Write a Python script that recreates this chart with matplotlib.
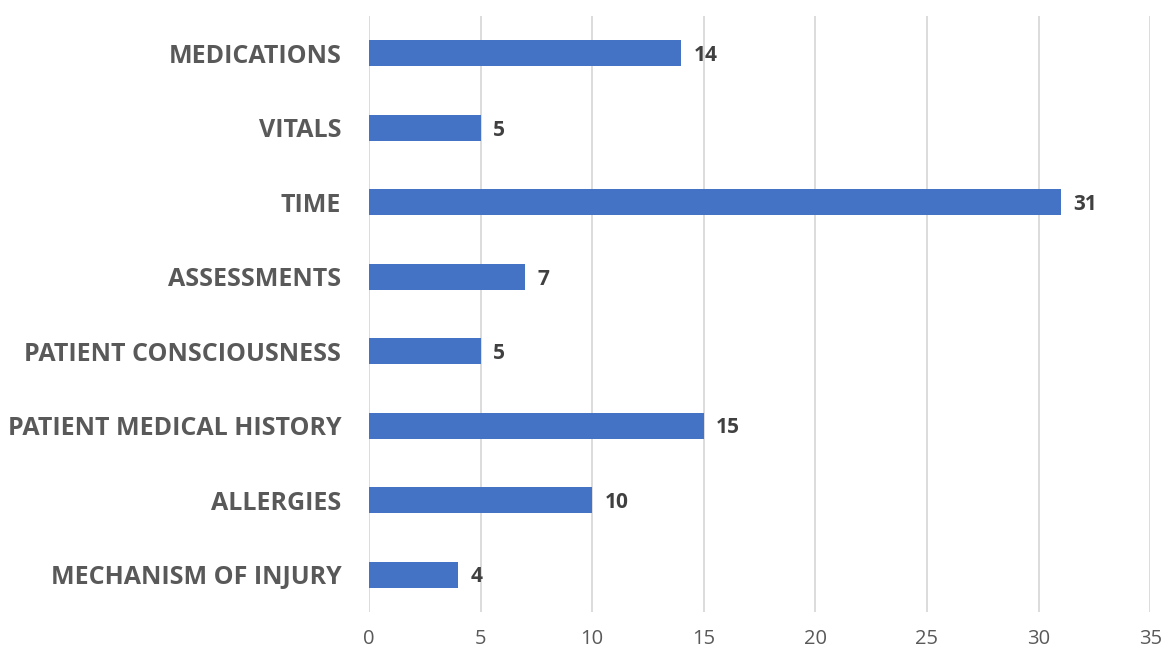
import matplotlib
matplotlib.use("Agg")
import matplotlib.pyplot as plt

categories = [
    "MEDICATIONS",
    "VITALS",
    "TIME",
    "ASSESSMENTS",
    "PATIENT CONSCIOUSNESS",
    "PATIENT MEDICAL HISTORY",
    "ALLERGIES",
    "MECHANISM OF INJURY",
]
counts = [14, 5, 31, 7, 5, 15, 10, 4]
x_ticks = [0, 5, 10, 15, 20, 25, 30, 35]

plt.rcParams["font.family"] = ["Open Sans", "DejaVu Sans"]

fig = plt.figure(figsize=(11.62, 6.49), dpi=100)
ax = fig.add_axes([0.3176, 0.057, 0.6722, 0.9183])

bar_color = "#4472C4"
text_color = "#595959"

ypos = list(range(len(categories)))
ax.barh(ypos, counts, height=0.35, color=bar_color, zorder=3)

for y, v in zip(ypos, counts):
    ax.text(v + 0.55, y + 0.03, str(v), va="center", ha="left",
            fontsize=15, fontweight="bold", color="#404040", zorder=4)

ax.set_yticks(ypos)
ax.set_yticklabels(categories, fontsize=18, fontweight="bold", color=text_color)
ax.set_ylim(len(categories) - 0.5, -0.5)

ax.set_xlim(0, 35)
ax.set_xticks(x_ticks)
ax.set_xticklabels([str(t) for t in x_ticks], fontsize=14.5, color=text_color)

ax.grid(axis="x", color="#D9D9D9", linewidth=1.3, zorder=0)
for s in ax.spines.values():
    s.set_visible(False)
ax.tick_params(axis="both", length=0)
ax.tick_params(axis="y", pad=20)
ax.tick_params(axis="x", pad=12)

fig.savefig("out.png", dpi=100, facecolor="white")
